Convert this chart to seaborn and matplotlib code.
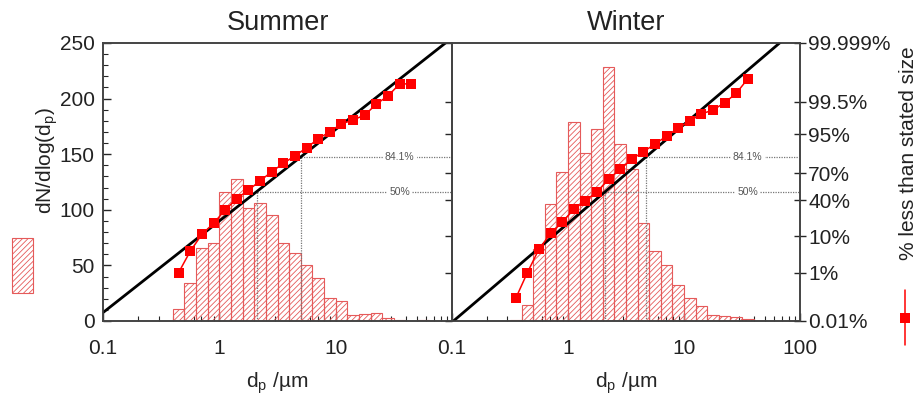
import matplotlib
matplotlib.use('Agg')
import matplotlib.pyplot as plt
import matplotlib.ticker as mticker
from matplotlib.lines import Line2D
from matplotlib.patches import Rectangle
from statistics import NormalDist
import seaborn as sns
import numpy as np
import pandas as pd

# bin centres (um) and dN/dlog(dp) per bin
summer_d = [0.447, 0.562, 0.708, 0.891, 1.12, 1.41, 1.78, 2.24, 2.82, 3.55, 4.47,
            5.62, 7.08, 8.91, 11.2, 14.1, 17.8, 22.4, 28.2, 35.5, 44.7, 56.2]
summer_n = [10.5, 34, 66, 70, 116, 128, 102, 106, 95, 70, 61,
            50, 39, 21, 18, 5.4, 6.3, 6.9, 2.4, 1, 0.2, 0.5]
winter_d = [0.355, 0.447, 0.562, 0.708, 0.891, 1.12, 1.41, 1.78, 2.24, 2.82, 3.55,
            4.47, 5.62, 7.08, 8.91, 11.2, 14.1, 17.8, 22.4, 28.2, 35.5, 44.7]
winter_n = [1, 14.4, 65, 105, 134, 179, 151, 173, 228, 159, 137,
            88, 63, 50, 32, 21, 13.5, 5.4, 4.8, 3.3, 2.1, 0.3]

# cumulative % less than stated size
summer_cum = [1.0, 4.3, 10.9, 18, 29.7, 42, 51.6, 62, 71.5, 79, 84.8,
              89.5, 93.5, 95.7, 97.4, 98.0, 98.6, 99.4, 99.70, 99.90, 99.90]
winter_cum = [0.11, 1.0, 4.9, 11.4, 18.8, 30.4, 39.5, 49.7, 64, 73.8, 82.4,
              87.3, 91.4, 94.4, 96.6, 97.85, 98.7, 99.04, 99.46, 99.76, 99.94]

# log-normal fit: median and geometric std dev
fits = {'Summer': (2.1, 2.4), 'Winter': (2.1, 2.25)}
prob_ticks = [0.01, 1, 10, 40, 70, 95, 99.5, 99.999]
prob_labels = ['0.01%', '1%', '10%', '40%', '70%', '95%', '99.5%', '99.999%']

def probit(pct):
    return np.array([NormalDist().inv_cdf(p / 100.0) for p in np.atleast_1d(pct)])

sns.set_style('ticks')
plt.rcParams['font.family'] = ['Liberation Sans', 'DejaVu Sans']
plt.rcParams['hatch.linewidth'] = 0.6
plt.rcParams['mathtext.default'] = 'regular'
plt.rcParams['text.color'] = '#222222'
plt.rcParams['xtick.labelcolor'] = '#222222'
plt.rcParams['ytick.labelcolor'] = '#222222'

fig = plt.figure(figsize=(9.19, 3.95), dpi=100)
axL = fig.add_axes([103/919, 1-321/395, 349/919, 278/395])
axR = fig.add_axes([452/919, 1-321/395, 348/919, 278/395])

red = '#ff0000'
histc = '#e55a5a'
zlo, zhi = probit(0.01)[0], probit(99.999)[0]
panels = [(axL, 'Summer', summer_d, summer_n, summer_cum, (-0.4, 1.8)),
          (axR, 'Winter', winter_d, winter_n, winter_cum, (-0.5, 1.7))]

for ax, name, d, n, cum, brange in panels:
    df = pd.DataFrame({'d': d, 'n': n})
    sns.histplot(data=df, x='d', weights='n', bins=22, binrange=brange,
                 log_scale=True, ax=ax, fill=False, color=histc,
                 linewidth=0.8, element='bars')
    for p in ax.patches:
        p.set_hatch('//////')
        p.set_edgecolor(histc)
    ax.set_ylim(0, 250)
    ax.set_ylabel('')
    ax.set_xlabel('d$_p$ /µm', fontsize=15, labelpad=9)
    ax.set_title(name, fontsize=19.5, pad=9)

    # probability axis
    ax2 = ax.twinx()
    ax2.set_ylim(zlo, zhi)
    ax2.set_yticks(probit(prob_ticks))

    med, gsd = fits[name]
    d84 = med * gsd
    xs = np.array([0.1, 100])
    zs = (np.log10(xs) - np.log10(med)) / np.log10(gsd)
    # dotted guide lines
    ax2.vlines([med, d84], zlo, [0, 1], colors='#777777',
               linestyles=(0, (1, 1)), linewidth=0.9)
    ax2.hlines([0, 1], [med, d84], 100, colors='#777777',
               linestyles=(0, (1, 1)), linewidth=0.9)
    for z, lab in [(1, '84.1%'), (0, '50%')]:
        ax2.text(10 ** 1.55, z, lab, fontsize=7.5, color='#555555', ha='center',
                 va='center', bbox=dict(facecolor='white', edgecolor='none', pad=1.5))
    ax2.plot(xs, zs, color='black', linewidth=2)
    cdf = pd.DataFrame({'d': d[:len(cum)], 'z': probit(cum)})
    sns.lineplot(data=cdf, x='d', y='z', ax=ax2, color=red, marker='s',
                 markersize=6.5, markeredgewidth=0, linewidth=1.1)
    ax2.set_ylabel('')
    ax2.set_xlabel('')
    ax2.set_ylim(zlo, zhi)
    for s in list(ax.spines.values()) + list(ax2.spines.values()):
        s.set_linewidth(1.2)
        s.set_color('#444444')

    ax.set_xlim(0.1, 100)
    ax.xaxis.set_major_locator(mticker.FixedLocator([0.1, 1, 10, 100]))
    ax.xaxis.set_minor_locator(mticker.LogLocator(base=10, subs=np.arange(2, 10), numticks=20))
    ax.xaxis.set_minor_formatter(mticker.NullFormatter())
    if name == 'Summer':
        ax.xaxis.set_major_formatter(mticker.FixedFormatter(['0.1', '1', '10', '']))
    else:
        ax.xaxis.set_major_formatter(mticker.FixedFormatter(['0.1', '1', '10', '100']))
    ax.tick_params(axis='x', which='both', direction='in', top=False, labelsize=15, pad=13)
    ax.tick_params(axis='x', which='major', length=6, width=1)
    ax.tick_params(axis='x', which='minor', length=3.5, width=0.8)
    ax2.tick_params(axis='x', which='both', top=False, bottom=False,
                    labeltop=False, labelbottom=False)

    if name == 'Summer':
        ax.set_yticks([0, 50, 100, 150, 200, 250])
        ax.yaxis.set_minor_locator(mticker.MultipleLocator(10))
        ax.tick_params(axis='y', which='both', direction='in', labelsize=15, pad=6)
        ax.tick_params(axis='y', which='major', length=6, width=1)
        ax.tick_params(axis='y', which='minor', length=3.5, width=0.8)
        ax2.tick_params(axis='y', direction='in', length=5, width=1, labelright=False)
    else:
        ax.tick_params(axis='y', which='both', left=False, labelleft=False)
        ax2.set_yticklabels(prob_labels)
        ax2.tick_params(axis='y', direction='inout', length=8, width=1, labelsize=15, pad=2)

# y labels and legend keys
fig.text(47/919, 1-160/395, 'dN/dlog(d$_p$)', rotation=90, fontsize=15,
         ha='center', va='center')
fig.add_artist(Rectangle((12/919, 1-293/395), 21/919, 55/395, transform=fig.transFigure,
                         facecolor='none', edgecolor=histc, hatch='//////', linewidth=0.8))
fig.text(909/919, 1-153/395, '% less than stated size', rotation=90, fontsize=15,
         ha='center', va='center')
fig.add_artist(Line2D([905/919, 905/919], [1-290/395, 1-345/395], transform=fig.transFigure,
                      color=red, linewidth=1.1))
fig.add_artist(Line2D([905/919], [1-318/395], transform=fig.transFigure,
                      color=red, marker='s', markersize=7, markeredgewidth=0))

fig.savefig('out.png', dpi=100)
